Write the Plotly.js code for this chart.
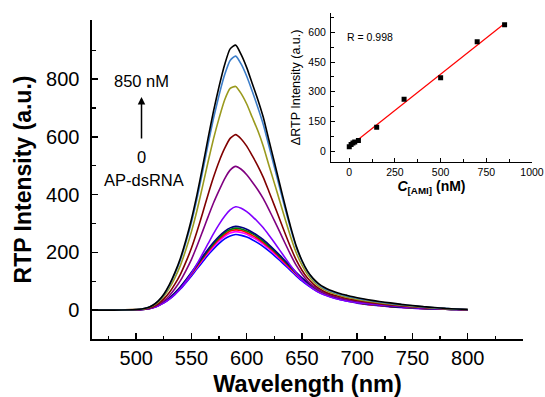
<!DOCTYPE html>
<html>
<head>
<meta charset="utf-8">
<script src="https://cdn.plot.ly/plotly-3.0.1.min.js"></script>
<style>html,body{margin:0;padding:0;background:#fff;}#chart{width:545px;height:397px;}</style>
</head>
<body>
<div id="chart"></div>
<script>
// ---- Data ----
var wavelength = [460,480,500,505,510,515,520,525,530,535,540,545,550,555,560,565,570,575,580,585,590,595,600,605,610,615,620,625,630,635,640,645,650,655,660,665,670,675,680,685,690,695,700,710,720,730,740,750,760,770,780,790,800];

var curveNames = ['AP-dsRNA','0 nM','c3','c4','c5','c6','c7','c8','c9','c10','850 nM'];
var curveColors = ['#0000FF','#FF00FF','#FF0000','#008000','#000080','#8000FF','#800080','#800000','#9A9A1E','#3D7EC9','#000000'];

var I_blue    = [0,0,1,2,4,8,15,25,38,54,73,95,118,143,167,191,212,231,247,257,262,259,253,244,233,220,205,189,172,154,136,118,101,87,74,63,54,47,41,36,32,28,24,19,15,12,9,7,5,4,3,2,1];
var I_magenta = [0,0,1,2,4,8,16,26,39,56,76,98,123,148,174,198,220,240,256,267,272,269,263,253,242,229,213,196,178,159,141,122,105,90,77,66,56,49,42,38,33,29,25,20,16,12,9,7,5,4,3,2,1];
var I_red     = [0,0,1,2,4,9,16,27,40,58,78,101,126,152,178,203,226,246,262,274,278,276,269,259,248,234,218,201,182,163,144,125,108,92,79,67,58,50,43,38,34,30,26,20,16,12,10,8,6,4,3,2,1];
var I_green   = [0,0,1,2,4,9,17,27,41,59,79,103,128,155,181,207,230,251,268,279,284,281,274,265,253,239,222,205,186,167,147,127,110,94,80,69,59,51,44,39,34,30,26,21,17,13,10,8,6,4,3,2,1];
var I_navy    = [0,0,1,2,4,9,17,28,42,60,81,105,131,158,185,211,235,256,273,285,290,287,280,270,258,244,227,209,190,170,150,130,112,96,82,70,60,52,45,40,35,31,27,21,17,13,10,8,6,4,3,2,1];
var I_violet  = [0,0,1,2,4,8,15,25,38,55,75,100,128,160,195,230,265,297,325,347,358,353,341,325,306,285,260,234,207,180,153,128,106,88,74,62,53,46,40,36,32,29,26,22,18,15,12,9,7,5,4,2,1];
var I_purple  = [0,0,1,3,5,10,19,32,50,74,102,137,176,222,272,323,372,415,455,485,498,488,469,444,417,386,349,310,270,229,190,154,125,101,83,70,60,52,46,41,37,34,31,26,21,17,14,11,8,6,4,3,1];
var I_wine    = [0,0,2,3,6,12,23,39,61,90,124,167,215,272,335,400,461,515,560,595,608,593,568,535,500,460,412,363,313,263,215,172,138,111,91,76,65,57,51,46,41,37,34,28,23,19,15,12,9,7,5,3,2];
var I_olive   = [0,0,2,3,7,15,28,48,76,112,155,210,272,345,428,513,594,665,728,768,775,750,714,668,622,568,503,440,376,312,251,197,156,124,100,83,71,62,56,50,45,41,37,31,26,21,17,13,10,7,5,3,2];
var I_royal   = [0,0,2,4,8,17,31,53,85,126,174,235,304,386,478,574,665,745,815,865,880,852,810,758,703,643,570,496,422,348,278,216,170,134,108,89,76,67,60,54,49,45,41,34,28,23,19,15,11,8,6,4,2];
var I_black   = [0,0,2,4,8,17,32,55,88,130,180,243,315,400,495,595,690,775,850,905,918,885,840,785,730,668,590,513,435,358,285,220,172,135,110,92,79,70,63,57,52,47,43,36,30,25,20,16,12,9,6,4,2];

var curves = [I_blue, I_magenta, I_red, I_green, I_navy, I_violet, I_purple, I_wine, I_olive, I_royal, I_black];

// inset
var conc = [0,10,20,30,50,150,300,500,700,850];
var deltaI = [22,33,40,46,53,120,262,370,552,638];

// tick labels
var mainYTicks = [0,200,400,600,800];
var mainXTicks = [500,550,600,650,700,750,800];
var insetYTicks = [0,150,300,450,600];
var insetXTicks = [0,250,500,750,1000];

// ---- Linear fit for inset ----
var n = conc.length, sx=0, sy=0, sxx=0, sxy=0;
for (var i=0;i<n;i++){sx+=conc[i];sy+=deltaI[i];sxx+=conc[i]*conc[i];sxy+=conc[i]*deltaI[i];}
var slope = (n*sxy - sx*sy)/(n*sxx - sx*sx);
var intercept = (sy - slope*sx)/n;
var fitX = [Math.min.apply(null,conc)-3, Math.max.apply(null,conc)];
var fitY = fitX.map(function(x){return intercept + slope*x;});

var FONT = 'Liberation Sans, Arial, sans-serif';
var traces = [];
curves.forEach(function(c, k){
  traces.push({
    x: wavelength, y: c, type:'scatter', mode:'lines', name: curveNames[k],
    line:{color: curveColors[k], width:1.6, shape:'spline', smoothing:0.6},
    xaxis:'x', yaxis:'y', hoverinfo:'skip'
  });
});
traces.push({x: fitX, y: fitY, type:'scatter', mode:'lines', line:{color:'#FF0000', width:1.2}, xaxis:'x2', yaxis:'y2', hoverinfo:'skip'});
traces.push({x: conc, y: deltaI, type:'scatter', mode:'markers', marker:{symbol:'square', size:5, color:'#000'}, xaxis:'x2', yaxis:'y2', hoverinfo:'skip'});

function minorVals(arr){var out=[];for(var i=0;i<arr.length-1;i++){out.push((arr[i]+arr[i+1])/2);}return out;}

var layout = {
  width:545, height:397,
  margin:{l:92, r:13, t:13, b:58, pad:0},
  paper_bgcolor:'#fff', plot_bgcolor:'rgba(0,0,0,0)',
  showlegend:false,
  font:{family:FONT, color:'#000'},
  xaxis:{
    domain:[0, 431/440], range:[460,850],
    showline:true, linecolor:'#000', linewidth:1.6, mirror:false,
    showgrid:false, zeroline:false,
    ticks:'inside', ticklen:6, tickwidth:1.5, tickcolor:'#000',
    tickvals: mainXTicks, ticktext: mainXTicks.map(String),
    minor:{tickvals:[475,525,575,625,675,725,775,825], ticks:'inside', ticklen:3.5, tickwidth:1.3, tickcolor:'#000'},
    tickfont:{size:20, family:FONT}, ticklabelstandoff:0,
    title:{text:'<b>Wavelength (nm)</b>', font:{size:23.5, family:FONT}, standoff:10},
    anchor:'y'
  },
  yaxis:{
    domain:[0, 319/326], range:[-100,1005],
    showline:true, linecolor:'#000', linewidth:1.6, mirror:false,
    showgrid:false, zeroline:false,
    ticks:'inside', ticklen:6, tickwidth:1.5, tickcolor:'#000',
    tickvals: mainYTicks, ticktext: mainYTicks.map(String),
    minor:{tickvals:[100,300,500,700,900], ticks:'inside', ticklen:3.5, tickwidth:1.3, tickcolor:'#000'},
    tickfont:{size:20, family:FONT}, ticklabelstandoff:7,
    title:{text:'<b>RTP Intensity (a.u.)</b>', font:{size:23, family:FONT}, standoff:8},
    anchor:'x'
  },
  xaxis2:{
    domain:[239/440, 1], range:[-100,1000],
    showline:true, linecolor:'#000', linewidth:1, mirror:false,
    showgrid:false, zeroline:false,
    ticks:'inside', ticklen:4, tickwidth:1, tickcolor:'#000',
    tickvals: insetXTicks, ticktext: insetXTicks.map(String),
    minor:{tickvals: minorVals(insetXTicks), ticks:'inside', ticklen:2.5, tickwidth:1, tickcolor:'#000'},
    tickfont:{size:10.5, family:FONT}, ticklabelstandoff:1,
    title:{text:'<b><i>C</i><sub>[AMI]</sub> (nM)</b>', font:{size:14, family:FONT}, standoff:3},
    anchor:'y2'
  },
  yaxis2:{
    domain:[0.5439, 1], range:[-54,698],
    showline:true, linecolor:'#000', linewidth:1, mirror:false,
    showgrid:false, zeroline:false,
    ticks:'inside', ticklen:4, tickwidth:1, tickcolor:'#000',
    tickvals: insetYTicks, ticktext: insetYTicks.map(String),
    minor:{tickvals:[75,225,375,525,675], ticks:'inside', ticklen:2.5, tickwidth:1, tickcolor:'#000'},
    tickfont:{size:10.5, family:FONT}, ticklabelstandoff:2,
    title:{text:'ΔRTP Intensity (a.u.)', font:{size:12.5, family:FONT}, standoff:4},
    anchor:'x2'
  },
  annotations:[
    {xref:'x', yref:'y', x:504.8, y:795, text:'850 nM', showarrow:false, font:{size:16.5, family:FONT}},
    {xref:'x', yref:'y', x:504.8, y:738, ax:504.8, ay:589, axref:'x', ayref:'y', text:'', showarrow:true, arrowhead:2, arrowsize:1, arrowwidth:1.5, arrowcolor:'#000'},
    {xref:'x', yref:'y', x:504.8, y:530, text:'0', showarrow:false, font:{size:16.5, family:FONT}},
    {xref:'x', yref:'y', x:506.6, y:451, text:'AP-dsRNA', showarrow:false, font:{size:16.5, family:FONT}},
    {xref:'x2', yref:'y2', x:-25, y:578, xanchor:'left', text:'R = 0.998', showarrow:false, font:{size:10.5, family:FONT}}
  ]
};

Plotly.newPlot('chart', traces, layout, {staticPlot:true, displayModeBar:false});
</script>
</body>
</html>
